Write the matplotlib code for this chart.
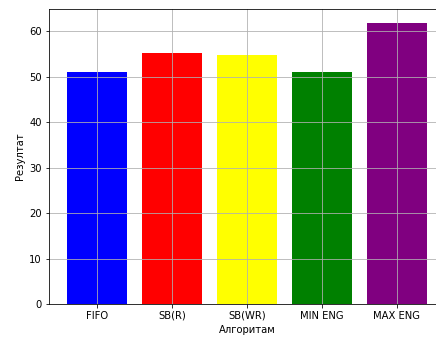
import matplotlib.pyplot as plt

algorithms = ['FIFO', 'SB(R)', 'SB(WR)', 'MIN ENG', 'MAX ENG']
results = [51.0, 55.3, 54.7, 51.0, 61.8]
colors = ['blue', 'red', 'yellow', 'green', 'purple']


def main():
    fig = plt.figure(figsize=(436 / 72, 338 / 72), dpi=72)
    ax = fig.add_axes([49 / 436, 34 / 338, 396 / 436, 295 / 338])
    ax.bar(algorithms, results, color=colors)
    ax.set_xlabel('Алгоритам')
    ax.set_ylabel('Резултат')
    ax.grid(True)
    fig.savefig('out.png', dpi=72)
    plt.close(fig)


if __name__ == '__main__':
    main()
